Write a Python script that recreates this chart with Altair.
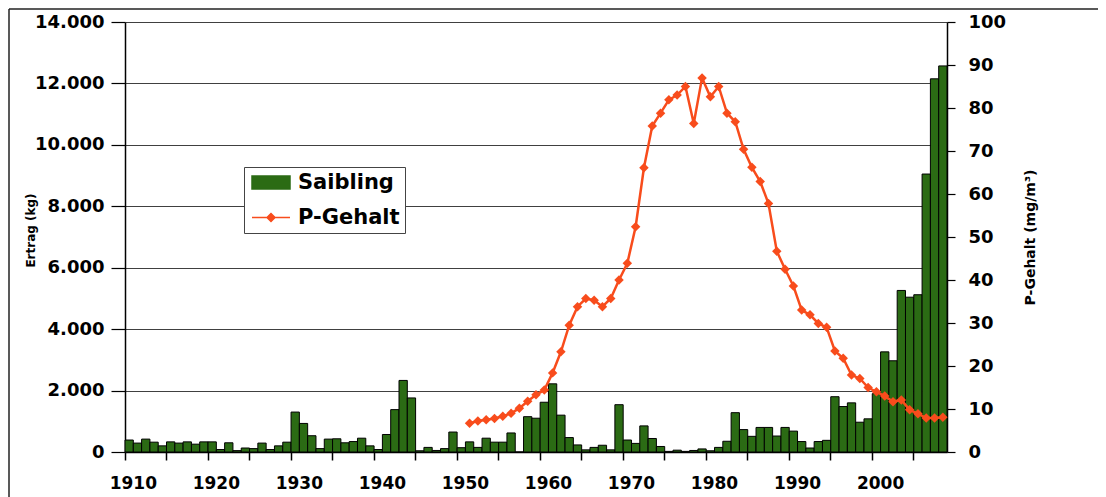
import altair as alt
import pandas as pd

# ---------------- data ----------------
years = list(range(1910, 2009))
saibling_kg = [
    390, 290, 420, 320, 200, 330, 290, 330, 255, 330,   # 1910-1919
    330, 80, 300, 45, 130, 110, 290, 80, 200, 320,      # 1920-1929
    1300, 930, 530, 110, 420, 430, 300, 340, 450, 200,  # 1930-1939
    80, 570, 1380, 2330, 1760, 40, 150, 50, 110, 650,   # 1940-1949
    140, 330, 150, 450, 320, 320, 620, 0, 1150, 1100,   # 1950-1959
    1620, 2220, 1200, 470, 230, 70, 150, 220, 70, 1540, # 1960-1969
    390, 280, 850, 440, 180, 20, 60, 20, 50, 100,       # 1970-1979
    40, 150, 350, 1280, 730, 510, 800, 800, 520, 800,   # 1980-1989
    680, 340, 130, 340, 380, 1800, 1480, 1600, 970, 1080,  # 1990-1999
    1900, 3260, 2970, 5260, 5040, 5120, 9050, 12150, 12570,  # 2000-2008
]
p_years = list(range(1951, 2009))
p_gehalt = [
    6.7, 7.2, 7.5, 7.8, 8.3, 9.0, 10.2, 11.8, 13.3,        # 1951-1959
    14.4, 18.4, 23.3, 29.5, 33.8, 35.7, 35.3, 33.8, 35.7, 40.0,  # 1960-1969
    43.9, 52.4, 66.1, 75.8, 78.8, 81.9, 83.0, 85.0, 76.4, 87.0,  # 1970-1979
    82.6, 85.0, 78.8, 76.8, 70.4, 66.2, 62.9, 57.8, 46.7, 42.5,  # 1980-1989
    38.6, 33.0, 31.9, 29.9, 29.0, 23.5, 21.8, 17.9, 17.1, 15.0,  # 1990-1999
    14.0, 13.0, 11.7, 12.1, 9.8, 8.9, 7.9, 7.9, 8.1,            # 2000-2008
]
x_tick_years = list(range(1910, 2010, 5))
left_ticks = list(range(0, 14001, 2000))
right_ticks = list(range(0, 101, 10))
series_names = ["Saibling", "P-Gehalt"]
series_colors = ["#2b6b14", "#f84c1c"]
legend_strokes = ["#111111", "#f84c1c"]
legend_shapes = [
    "M-1.5,-1.3H6.1V1.3H-1.5Z",
    "M-1.5,0H6.1M1.5,0L2.3,-0.8L3.1,0L2.3,0.8Z",
]

FONT = "DejaVu Sans"

bars_df = pd.DataFrame({"year": years, "ertrag": saibling_kg, "series": "Saibling"})
p_df = pd.DataFrame({"year": p_years, "p": p_gehalt, "series": "P-Gehalt"})
legend_df = pd.DataFrame({"series": series_names})

x_axis = alt.Axis(
    values=x_tick_years,
    labelExpr="datum.value % 10 == 0 ? datum.label : ''",
    bandPosition=0, labelOffset=4.15, labelAngle=0,
    tickSize=8, tickWidth=1.5, tickColor="black",
    domainColor="black", domainWidth=1.5,
    labelFont=FONT, labelFontSize=17, labelFontWeight="bold", labelColor="black",
    labelPadding=15, grid=False, title=None,
)
x_enc = alt.X("year:O", scale=alt.Scale(domain=years, paddingInner=0, paddingOuter=0),
              axis=x_axis)

color_scale = alt.Scale(domain=series_names, range=series_colors)

legend = alt.Legend(
    orient="none", legendX=119, legendY=145, title=None,
    fillColor="white", strokeColor="#444444", padding=5,
    labelFont=FONT, labelFontSize=21, labelFontWeight="bold", labelColor="black",
    labelOffset=28, rowPadding=13, symbolSize=100, symbolOpacity=1,
    symbolStrokeWidth=1.5,
)

bars = alt.Chart(bars_df).mark_bar(stroke="black", strokeWidth=1).encode(
    x=x_enc,
    y=alt.Y("ertrag:Q", scale=alt.Scale(domain=[0, 14000], nice=False),
            axis=alt.Axis(values=left_ticks, orient="left",
                          labelExpr="replace(format(datum.value, ','), ',', '.')",
                          labelFont=FONT, labelFontSize=18, labelFontWeight="bold", labelColor="black",
                          tickSize=14, tickColor="black", tickWidth=1.2, labelPadding=7,
                          domainColor="black", domainWidth=1.5,
                          grid=True, gridColor="#404040", gridWidth=1.2,
                          title="Ertrag (kg)", titleFont=FONT, titleFontSize=12, titleFontWeight="bold",
                          titleColor="black", titleAngle=270, titleX=-95, titleY=208,
                          titleAlign="center", titleBaseline="middle")),
    color=alt.Color("series:N", scale=color_scale, legend=legend),
)

right_axis = alt.Axis(values=right_ticks, orient="right",
                      labelFont=FONT, labelFontSize=18, labelFontWeight="bold", labelColor="black",
                      tickSize=8, tickColor="black", tickWidth=1.2, labelPadding=13,
                      domainColor="black", domainWidth=1.5, grid=False,
                      title="P-Gehalt (mg/m³)", titleFont=FONT, titleFontSize=14, titleFontWeight="bold",
                      titleColor="black", titleAngle=270, titleX=83, titleY=215,
                      titleAlign="center", titleBaseline="middle")

p_y = alt.Y("p:Q", scale=alt.Scale(domain=[0, 100], nice=False), axis=right_axis)

line = alt.Chart(p_df).mark_line(strokeWidth=2.5).encode(
    x=x_enc, y=p_y, color=alt.Color("series:N", scale=color_scale, legend=legend))
points = alt.Chart(p_df).mark_point(shape="diamond", filled=True, size=90, opacity=1).encode(
    x=x_enc, y=p_y, color=alt.Color("series:N", scale=color_scale, legend=legend))

# invisible layer that only carries the combined legend (fill, outline, symbol)
legend_layer = alt.Chart(legend_df).mark_point(filled=True, opacity=0).encode(
    color=alt.Color("series:N", scale=color_scale, legend=legend),
    shape=alt.Shape("series:N", scale=alt.Scale(domain=series_names, range=legend_shapes), legend=legend),
    stroke=alt.Stroke("series:N", scale=alt.Scale(domain=series_names, range=legend_strokes), legend=legend),
)

frame_left = alt.Chart(alt.Data(values=[{}])).mark_rule(color="#222222", strokeWidth=1.5).encode(
    x=alt.value(-116), y=alt.value(-13), y2=alt.value(475))
frame_top = alt.Chart(alt.Data(values=[{}])).mark_rule(color="#222222", strokeWidth=1.5).encode(
    y=alt.value(-13), x=alt.value(-116), x2=alt.value(973))

chart = alt.layer(bars, alt.layer(line, points), legend_layer, frame_left, frame_top).resolve_scale(
    y="independent"
).properties(
    width=822, height=430,
    autosize=alt.AutoSizeParams(type="none"),
    padding={"left": 117, "top": 14, "right": 151, "bottom": 45},
    background="white",
).configure_view(strokeWidth=0)

chart.save("out.html", embed_options={"renderer": "svg", "actions": False})
